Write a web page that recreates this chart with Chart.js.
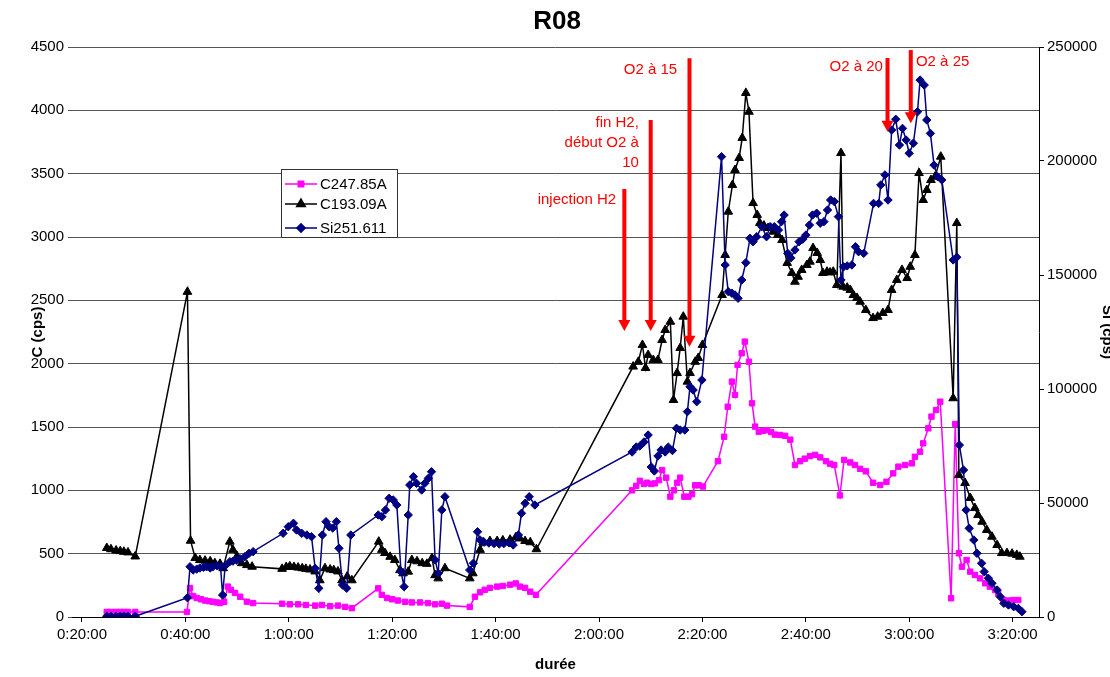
<!DOCTYPE html>
<html>
<head>
<meta charset="utf-8">
<title>R08</title>
<script src="https://cdn.jsdelivr.net/npm/chart.js@4.4.0/dist/chart.umd.min.js"></script>
<style>
  html, body { margin: 0; padding: 0; background: #fff; }
  #wrap { width: 1110px; height: 677px; }
</style>
</head>
<body>
<div id="wrap"><canvas id="r08Chart" width="1110" height="677"></canvas></div>
<script>
// durée in minutes since start of run
var timeTicks = [20, 40, 60, 80, 100, 120, 140, 160, 180, 200];

var c247Times = [24.8,25.6,26.6,27.4,28.1,28.9,30.3,
  40.3,40.9,41.5,42.2,43.0,43.8,44.6,45.3,46.1,46.7,47.5,48.2,48.8,49.6,50.6,51.9,53.1,
  58.7,60.2,61.8,63.3,65.1,66.4,68.0,69.5,70.9,72.2,
  77.3,78.0,79.0,80.0,81.1,82.5,83.8,85.4,86.9,88.3,89.6,90.6,
  95.0,96.0,97.0,97.9,98.9,100.3,101.4,102.8,103.9,104.7,105.7,106.7,107.8,
  126.4,127.2,127.9,128.7,129.3,130.1,130.8,131.6,132.2,133.0,133.8,134.5,135.1,135.7,136.5,137.3,138.0,138.6,139.3,140.1,
  143.0,144.2,144.9,145.7,146.3,146.8,147.6,148.2,149.0,149.6,150.2,150.9,151.7,152.5,153.3,154.0,155.0,156.0,157.0,
  157.9,158.9,159.8,160.8,161.8,162.8,163.9,164.7,165.5,166.6,167.4,168.6,169.5,170.5,171.6,173.0,174.4,175.6,176.9,177.9,179.2,180.5,181.1,182.1,182.7,183.7,184.3,185.2,186.0,
  188.1,188.9,189.6,190.2,191.1,191.8,192.7,193.7,194.7,195.6,196.6,197.2,198.2,199.1,200.1,201.1];
var c247Values = [40,40,40,40,40,40,40,
  40,229,165,150,140,130,125,120,115,110,120,240,215,190,160,121,110,
  105,100,100,95,90,95,85,90,80,70,
  226,175,150,140,130,120,115,115,110,100,105,90,
  80,160,195,215,230,240,245,255,265,240,230,200,175,
  1000,1035,1075,1050,1060,1050,1055,1080,1160,1100,950,1000,1060,1100,950,950,970,1040,1040,1030,
  1230,1423,1660,1858,1753,1990,2082,2174,2015,1687,1503,1463,1470,1475,1460,1440,1437,1430,1400,
  1200,1230,1250,1270,1280,1260,1230,1210,1200,960,1240,1220,1200,1170,1150,1060,1042,1068,1134,1187,1200,1213,1265,1305,1371,1490,1582,1634,1700,
  148,1524,503,397,450,358,332,305,266,239,213,187,134,130,134,134];

var c193Times = [24.8,25.6,26.6,27.4,28.1,28.9,30.3,
  40.4,41.0,41.9,42.8,43.8,44.8,45.7,46.7,47.3,48.6,49.2,50.0,50.9,51.9,52.9,
  58.7,59.5,60.2,61.0,61.8,62.6,63.3,64.1,65.1,66.0,67.0,68.0,68.7,69.5,70.3,71.3,72.2,
  77.4,78.0,78.6,79.6,80.5,81.5,82.1,83.1,83.8,84.8,85.8,86.7,87.7,88.3,88.9,90.2,
  95.0,95.6,97.0,97.6,98.9,100.3,101.4,102.8,103.9,104.7,105.7,106.7,107.9,
  126.6,127.6,128.4,129.0,129.5,130.5,131.4,132.2,132.8,133.8,134.4,135.1,135.7,136.3,137.1,137.6,138.6,139.2,140.0,
  143.8,144.4,145.0,145.8,146.3,147.1,147.7,148.4,149.0,149.8,150.6,151.1,151.9,152.7,153.7,154.6,155.4,156.4,157.3,157.9,
  158.5,159.2,160.2,160.8,161.4,162.2,162.8,163.3,164.1,164.7,165.3,166.0,166.8,167.2,168.0,168.6,169.2,169.9,170.5,171.6,
  173.0,173.9,174.9,175.9,176.6,177.6,178.6,179.6,180.2,181.1,181.9,182.7,183.4,184.2,185.0,186.1,
  188.5,189.2,189.6,190.8,191.8,192.7,193.3,194.1,195.0,196.0,197.0,197.9,198.9,199.9,200.8,201.4];
var c193Values = [545,535,525,520,515,510,478,
  2567,602,466,450,445,440,425,420,385,595,530,480,425,410,397,
  380,395,400,395,390,385,380,375,360,290,385,375,370,360,290,320,290,
  595,530,505,475,450,370,345,358,450,440,425,420,465,330,305,385,
  305,345,530,590,600,600,605,610,630,620,600,590,535,
  1977,2015,2148,1966,2069,2029,2029,2187,2266,2331,1713,1926,2124,2371,1858,1926,2015,2045,2148,
  2542,2858,3200,3410,3529,3624,3782,4137,3989,3268,3174,3110,3090,3071,3042,3016,2976,2795,2716,2647,
  2686,2740,2779,2805,2913,2874,2818,2716,2726,2720,2726,2621,3663,2608,2600,2582,2542,2519,2489,2424,
  2360,2371,2400,2424,2582,2661,2740,2676,2765,2858,3505,3292,3371,3450,3476,3634,
  1727,3110,1121,1058,940,860,805,752,687,634,568,505,505,500,490,476];

var si251Times = [24.8,25.6,26.6,27.4,28.1,28.9,30.3,
  40.4,40.9,41.5,42.2,42.8,43.5,44.1,44.8,45.3,46.1,46.8,47.2,47.7,48.6,49.2,49.9,50.6,51.5,52.3,53.1,
  58.9,59.9,60.9,61.5,62.5,63.5,64.4,65.1,65.8,66.5,67.2,67.8,68.5,69.2,69.7,70.4,71.2,72.0,
  77.3,78.0,78.7,79.4,80.2,80.9,81.7,82.3,83.1,83.4,84.1,84.7,85.7,86.3,87.0,87.6,88.3,88.9,89.6,90.2,
  95.0,95.7,96.5,97.0,97.8,98.7,99.7,100.7,101.6,102.6,103.4,104.4,105.0,105.7,106.5,107.6,
  126.4,127.2,127.9,128.7,129.5,130.1,130.7,131.4,132.0,132.8,133.4,134.2,135.0,135.7,136.6,137.1,137.6,138.2,138.9,139.9,
  143.7,144.4,145.0,145.7,146.3,146.9,147.6,148.4,149.2,149.8,150.5,151.5,152.4,153.1,153.9,154.7,155.3,155.8,156.5,157.1,
  157.9,158.7,159.4,160.0,160.7,161.3,162.1,162.8,163.5,164.2,164.8,165.5,166.3,166.8,167.3,168.0,168.9,169.6,170.2,171.2,
  173.1,174.1,174.5,175.3,175.9,176.6,177.4,178.1,178.7,179.4,180.0,180.8,181.6,182.1,182.9,183.4,184.1,184.8,185.5,186.3,
  188.5,189.2,189.7,190.5,191.0,191.6,192.5,193.1,194.0,194.5,195.3,196.0,197.0,197.6,198.3,199.2,200.2,201.1,201.8];
var si251Values = [300,300,300,300,300,300,300,
  8465,22060,20600,21000,21500,21800,22000,21500,22000,22500,22000,9650,22500,24250,24500,25000,25500,26450,27900,28640,
  36710,39600,41100,38160,36710,35960,35220,21360,12590,35960,41800,39600,39000,41800,30130,14035,12590,35960,
  44740,44000,46930,52060,51320,49120,19870,13290,44740,57900,61540,58640,55700,58640,60830,63730,25000,19160,46930,52760,
  20610,23550,37400,33770,32800,32450,32200,32000,32200,32500,31600,35960,45480,49870,52760,49120,
  72370,74560,75000,76750,79830,65790,64040,70600,73250,72400,74500,73000,82760,82000,82000,90060,101000,99560,94440,103950,
  201900,154400,142700,142000,141230,139800,147800,155400,166100,164600,166800,171200,166800,171200,171200,169700,173400,176300,159500,157500,
  161000,164600,165700,167500,171900,176300,177100,172700,173400,178500,182900,182200,175600,147800,153600,154000,154400,162400,160200,159500,
  181400,181400,189500,193900,182900,213600,218300,207000,214300,209200,203400,207800,221600,235500,233300,218000,212100,198200,193100,191700,
  156600,157800,75400,64470,46930,38900,33770,27940,23550,19870,17000,14780,11840,8900,6000,5260,4520,3800,2330];

// red arrows: time, top and tip of the arrow on the C axis, with their notes
var arrowTimes = [124.9, 130.0, 137.5, 175.8, 180.3];
var arrowTops = [3379, 3924, 4411, 4413, 4476];
var arrowTips = [2258, 2258, 2134, 3831, 3898];
var noteTexts = [['injection H2'], ['fin H2,', 'début O2 à', '10'], ['O2 à 15'], ['O2 à 20'], ['O2 à 25']];
var noteTimes = [123.3, 127.7, 135.1, 174.9, 181.3];
var noteLevels = [3292, 3900, 4318, 4342, 4384];

function toPoints(xs, ys) {
  return xs.map(function(x, i) { return {x: x, y: ys[i]}; });
}

function fmtDuree(m) {
  var h = Math.floor(m / 60);
  var mm = Math.round(m - h * 60);
  return h + ':' + (mm < 10 ? '0' : '') + mm + ':00';
}

var FONT = "'Liberation Sans', Arial, sans-serif";
Chart.defaults.font.family = FONT;
Chart.defaults.color = '#000';

var titlePlugin = {
  id: 'r08Title',
  afterDraw: function(chart) {
    var ctx = chart.ctx;
    ctx.save();
    ctx.fillStyle = '#000';
    ctx.font = 'bold 26px ' + FONT;
    ctx.textAlign = 'center';
    ctx.textBaseline = 'middle';
    ctx.fillText('R08', 557, 22);
    ctx.restore();
  }
};

var arrowsPlugin = {
  id: 'arrows',
  afterDraw: function(chart) {
    var ctx = chart.ctx, xs = chart.scales.x, ys = chart.scales.y;
    ctx.save();
    ctx.fillStyle = '#ff0000';
    ctx.strokeStyle = '#ff0000';
    for (var i = 0; i < arrowTimes.length; i++) {
      var x = xs.getPixelForValue(arrowTimes[i]);
      var y0 = ys.getPixelForValue(arrowTops[i]);
      var y1 = ys.getPixelForValue(arrowTips[i]);
      ctx.lineWidth = 4;
      ctx.beginPath();
      ctx.moveTo(x, y0);
      ctx.lineTo(x, y1 - 10);
      ctx.stroke();
      ctx.beginPath();
      ctx.moveTo(x - 6, y1 - 11);
      ctx.lineTo(x + 6, y1 - 11);
      ctx.lineTo(x, y1);
      ctx.closePath();
      ctx.fill();

      var tx = xs.getPixelForValue(noteTimes[i]);
      var ty = ys.getPixelForValue(noteLevels[i]);
      ctx.font = '15px ' + FONT;
      ctx.textAlign = noteTimes[i] > arrowTimes[i] ? 'left' : 'right';
      ctx.textBaseline = 'middle';
      noteTexts[i].forEach(function(line, k) {
        ctx.fillText(line, tx, ty + k * 20);
      });
    }
    ctx.restore();
  }
};

var legendPlugin = {
  id: 'legendBox',
  afterDraw: function(chart) {
    var ctx = chart.ctx;
    var left = 281, top = 169, w = 116, h = 68;
    ctx.save();
    ctx.fillStyle = '#fff';
    ctx.fillRect(left, top, w, h);
    ctx.strokeStyle = '#333';
    ctx.lineWidth = 1;
    ctx.strokeRect(left + 0.5, top + 0.5, w, h);
    var rows = [184, 204, 228];
    chart.data.datasets.forEach(function(ds) {
      var y = rows[ds.legendRow];
      ctx.strokeStyle = ds.borderColor;
      ctx.lineWidth = 1.5;
      ctx.beginPath();
      ctx.moveTo(285, y);
      ctx.lineTo(317, y);
      ctx.stroke();
      ctx.fillStyle = ds.borderColor;
      Chart.helpers.drawPoint(ctx, {
        pointStyle: ds.pointStyle, radius: ds.pointRadius, rotation: 0, borderWidth: 1
      }, 301, y);
      ctx.fillStyle = '#000';
      ctx.font = '15px ' + FONT;
      ctx.textAlign = 'left';
      ctx.textBaseline = 'middle';
      ctx.fillText(ds.label, 320, y + 1);
    });
    ctx.restore();
  }
};

new Chart(document.getElementById('r08Chart').getContext('2d'), {
  type: 'line',
  data: {
    datasets: [{
      label: 'Si251.611',
      legendRow: 2,
      data: toPoints(si251Times, si251Values),
      yAxisID: 'y1',
      borderColor: '#000080',
      backgroundColor: '#000080',
      borderWidth: 1.5,
      pointStyle: 'rectRot',
      pointRadius: 4.2,
      pointBorderWidth: 1,
      order: 1
    }, {
      label: 'C193.09A',
      legendRow: 1,
      data: toPoints(c193Times, c193Values),
      yAxisID: 'y',
      borderColor: '#000000',
      backgroundColor: '#000000',
      borderWidth: 1.5,
      pointStyle: 'triangle',
      pointRadius: 5,
      pointBorderWidth: 1,
      order: 2
    }, {
      label: 'C247.85A',
      legendRow: 0,
      data: toPoints(c247Times, c247Values),
      yAxisID: 'y',
      borderColor: '#ff00ff',
      backgroundColor: '#ff00ff',
      borderWidth: 1.5,
      pointStyle: 'rect',
      pointRadius: 3.8,
      pointBorderWidth: 1,
      order: 3
    }]
  },
  options: {
    responsive: false,
    animation: false,
    devicePixelRatio: 1,
    layout: { padding: { left: 29, right: 0, top: 47, bottom: 0 } },
    elements: { line: { tension: 0 } },
    plugins: {
      legend: { display: false },
      tooltip: { enabled: false },
      title: { display: false }
    },
    scales: {
      x: {
        type: 'linear',
        min: 18.07,
        max: 205.1,
        afterBuildTicks: function(scale) {
          scale.ticks = timeTicks.map(function(v) { return {value: v}; });
        },
        afterFit: function(scale) { scale.height = 60; },
        ticks: {
          font: { size: 15 },
          padding: 4,
          maxRotation: 0,
          autoSkip: false,
          callback: function(v) { return fmtDuree(v); }
        },
        grid: { drawOnChartArea: false, drawTicks: true, tickLength: 5, color: '#000' },
        border: { color: '#000', width: 1 },
        title: { display: true, text: 'durée', font: { size: 15, weight: 'bold' }, padding: { top: 0, bottom: 3 } }
      },
      y: {
        position: 'left',
        min: 0,
        max: 4500,
        afterFit: function(scale) { scale.width = 43; },
        ticks: {
          stepSize: 500,
          font: { size: 15 },
          padding: 4,
          callback: function(v) { return String(v); }
        },
        grid: { color: '#555', lineWidth: 1, drawTicks: true, tickLength: 4 },
        border: { display: false },
        title: { display: true, text: 'C (cps)', font: { size: 15, weight: 'bold' }, padding: 0 }
      },
      y1: {
        position: 'right',
        min: 0,
        max: 250000,
        afterFit: function(scale) { scale.width = 71; },
        ticks: {
          stepSize: 50000,
          font: { size: 15 },
          padding: 3,
          callback: function(v) { return String(v); }
        },
        grid: { drawOnChartArea: false, drawTicks: true, tickLength: 5, color: '#000' },
        border: { color: '#000', width: 1 },
        title: { display: true, text: 'Si (cps)', font: { size: 15, weight: 'bold' }, padding: { top: -6, bottom: 0 } }
      }
    }
  },
  plugins: [arrowsPlugin, legendPlugin, titlePlugin]
});
</script>
</body>
</html>
